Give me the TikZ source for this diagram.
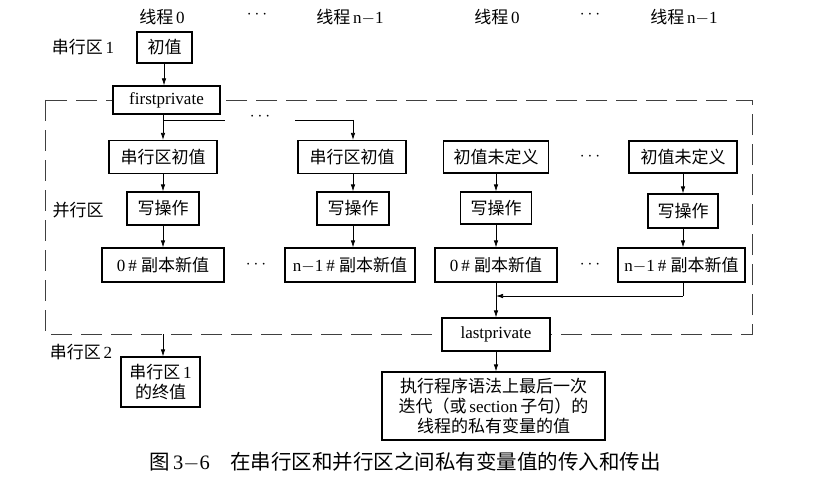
\documentclass[tikz,border=0pt]{standalone}
\usepackage{fontspec}
\setmainfont{Liberation Serif}
\newfontfamily\cjk{Noto Sans CJK SC}
\usetikzlibrary{arrows.meta}
\newcommand\zh[1]{{\cjk #1}}
\begin{document}
\begin{tikzpicture}[x=1pt,y=-1pt,
  box/.style={draw, line width=1.2pt, fill=white, inner sep=0pt, font=\fontsize{17}{19.8}\selectfont, align=center},
  lab/.style={font=\fontsize{17}{19}\selectfont, inner sep=0pt},
  arr/.style={-{Latex[length=7pt,width=4.5pt]}, line width=0.7pt},
  ln/.style={line width=0.7pt},
  dashbox/.style={dash pattern=on 21pt off 9pt, line width=0.9pt, black!75}]
\useasboundingbox (0,0) rectangle (829,484);
% dashed parallel region
\draw[dashbox] (45,100) rectangle (752,334);
% header
\node[lab] (h1) at (162,17) {\zh{线程}\,0};
\node[lab] (h2) at (257,15) {$\cdots$};
\node[lab] (h3) at (350,17) {\zh{线程}\,n$-$1};
\node[lab] (h4) at (497,17) {\zh{线程}\,0};
\node[lab] (h5) at (590,15) {$\cdots$};
\node[lab] (h6) at (684,17) {\zh{线程}\,n$-$1};
% side labels
\node[lab] (s1) at (83,47) {\zh{串行区}\,1};
\node[lab] (s2) at (78,210) {\zh{并行区}};
\node[lab] (s3) at (81,352) {\zh{串行区}\,2};
% boxes
\node[box, minimum width=55pt, minimum height=31pt] (init) at (164.5,47.5) {\zh{初值}};
\node[box, minimum width=107pt, minimum height=28pt] (fp) at (166.5,100) {firstprivate};
\node[box, minimum width=108pt, minimum height=33pt] (a1) at (163,157) {\zh{串行区初值}};
\node[box, minimum width=108pt, minimum height=33pt] (a2) at (352,157) {\zh{串行区初值}};
\node[box, minimum width=105pt, minimum height=32pt] (a3) at (496,157) {\zh{初值未定义}};
\node[box, minimum width=108pt, minimum height=32pt] (a4) at (683,157) {\zh{初值未定义}};
\node[box, minimum width=72pt, minimum height=33pt] (b1) at (163,208.5) {\zh{写操作}};
\node[box, minimum width=72pt, minimum height=33pt] (b2) at (353,208.5) {\zh{写操作}};
\node[box, minimum width=71pt, minimum height=32pt] (b3) at (496,208) {\zh{写操作}};
\node[box, minimum width=70pt, minimum height=34pt] (b4) at (683,211) {\zh{写操作}};
\node[box, minimum width=122pt, minimum height=34pt] (c1) at (163,265) {0\,\#\ \zh{副本新值}};
\node[box, minimum width=130pt, minimum height=34pt] (c2) at (350,265) {n$-$1\,\#\ \zh{副本新值}};
\node[box, minimum width=122pt, minimum height=34pt] (c3) at (496,265) {0\,\#\ \zh{副本新值}};
\node[box, minimum width=127pt, minimum height=34pt] (c4) at (681.5,265) {n$-$1\,\#\ \zh{副本新值}};
\node[box, minimum width=108pt, minimum height=33pt] (lp) at (496,334.5) {lastprivate};
\node[box, minimum width=223pt, minimum height=68pt] (fin) at (493.5,406) {\zh{执行程序语法上最后一次}\\\zh{迭代（或}\,section\,\zh{子句）的}\\\zh{线程的私有变量的值}};
\node[box, minimum width=79pt, minimum height=50pt] (end1) at (160.5,382) {\zh{串行区}\,1\\\zh{的终值}};
% dots
\node[lab] (d1) at (260,117) {$\cdots$};
\node[lab] (d2) at (256,265) {$\cdots$};
\node[lab] (d3) at (590,157) {$\cdots$};
\node[lab] (d4) at (590,265) {$\cdots$};
% caption
\node[font=\fontsize{20.5}{24}\selectfont, inner sep=0pt] (cap) at (405,462) {\zh{图}\,3$-$6\quad\zh{在串行区和并行区之间私有变量值的传入和传出}};
% connectors
\draw[arr] (164,0 |- init.south) -- (164,0 |- fp.north);
\coordinate (br0) at (163,120);
\coordinate (br1) at (225,120);
\coordinate (br2) at (295,120);
\coordinate (br3) at (353,120);
\draw[arr] (163,0 |- fp.south) -- (163,0 |- a1.north);
\draw[ln] (br0) -- (br1);
\draw[ln] (br2) -- (br3);
\draw[arr] (br3) -- (br3 |- a2.north);
\draw[arr] (a1) -- (b1);
\draw[arr] (b1) -- (c1);
\draw[arr] (353,0 |- a2.south) -- (353,0 |- b2.north);
\draw[arr] (353,0 |- b2.south) -- (353,0 |- c2.north);
\draw[arr] (a3) -- (b3);
\draw[arr] (b3) -- (c3);
\draw[arr] (a4) -- (b4);
\draw[arr] (b4) -- (683,0 |- c4.north);
\draw[arr] (c3) -- (lp);
\coordinate (m1) at (683,296);
\coordinate (m2) at (496,296);
\draw[ln] (683,0 |- c4.south) -- (m1);
\draw[arr] (m1) -- (m2);
\draw[arr] (lp) -- (lp |- fin.north);
\coordinate (dd) at (163,334);
\draw[arr] (dd) -- (dd |- end1.north);
\end{tikzpicture}
\end{document}
